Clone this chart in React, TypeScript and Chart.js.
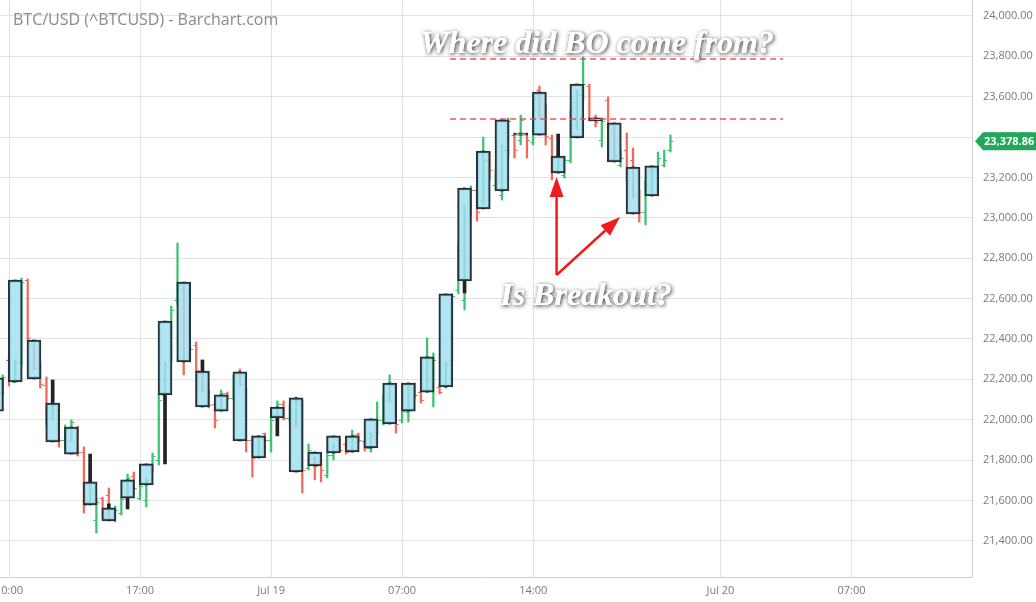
import React, { useEffect, useRef } from "react";
import { Chart, registerables } from "chart.js";
Chart.register(...registerables);

// ---- axes ----
const xMinHour = 9.519; // hours since Jul 18 00:00
const xMaxHour = 61.44;
const xTickHours = [10, 17, 24, 31, 38, 48, 55];
const xTickLabels = ["10:00", "17:00", "Jul 19", "07:00", "14:00", "Jul 20", "07:00"];
const yMin = 21221;
const yMax = 24079;
const yTicks = [21400, 21600, 21800, 22000, 22200, 22400, 22600, 22800, 23000, 23200, 23400, 23600, 23800, 24000];

// ---- hourly candles (boxes) ----
const hourStarts = [9, 10, 11, 12, 13, 14, 15, 16, 17, 18, 19, 20, 21, 22, 23, 24, 25, 26, 27, 28, 29, 30, 31, 32, 33, 34, 35, 36, 37, 38, 39, 40, 41, 42, 43, 44];
const hourOpen = [22207, 22187, 22395, 22083, 21964, 21692, 21563, 21612, 21677, 22123, 22286, 22241, 22043, 22237, 21920, 22009, 22108, 21771, 21835, 21840, 21860, 21979, 22182, 22137, 22162, 22687, 23044, 23133, 23420, 23410, 23306, 23396, 23495, 23470, 23252, 23108];
const hourClose = [22043, 22692, 22202, 21890, 21830, 21578, 21499, 21702, 21781, 22489, 22682, 22063, 22123, 21895, 21811, 22063, 21741, 21840, 21920, 21920, 22004, 22182, 22043, 22311, 22623, 23148, 23331, 23485, 23410, 23623, 23222, 23663, 23480, 23277, 23019, 23257];
const hourHigh = [22207, 22692, 22395, 22197, 21964, 21830, 21583, 21702, 21781, 22489, 22682, 22296, 22123, 22237, 21920, 22063, 22108, 21840, 21920, 21920, 22004, 22182, 22182, 22311, 22623, 23148, 23331, 23485, 23420, 23623, 23415, 23663, 23495, 23470, 23252, 23257];
const hourLow = [22043, 22187, 22202, 21890, 21830, 21578, 21499, 21558, 21677, 21781, 22286, 22063, 22043, 21895, 21811, 21920, 21741, 21771, 21835, 21840, 21860, 21979, 22043, 22137, 22162, 22628, 23044, 23133, 23410, 23410, 23222, 23396, 23480, 23277, 23019, 23108];

// ---- 20-minute OHLC bars ----
const barTimes = [9.667,
  10, 10.333, 10.667, 11, 11.333, 11.667, 12, 12.333, 12.667, 13, 13.333, 13.667,
  14, 14.333, 14.667, 15, 15.333, 15.667, 16, 16.333, 16.667, 17, 17.333, 17.667,
  18, 18.333, 18.667, 19, 19.333, 19.667, 20, 20.333, 20.667, 21, 21.333, 21.667,
  22, 22.333, 22.667, 23, 23.333, 23.667, 24, 24.333, 24.667, 25, 25.333, 25.667,
  26, 26.333, 26.667, 27, 27.333, 27.667, 28, 28.333, 28.667, 29, 29.333, 29.667,
  30, 30.333, 30.667, 31, 31.333, 31.667, 32, 32.333, 32.667, 33, 33.333, 33.667,
  34, 34.333, 34.667, 35, 35.333, 35.667, 36, 36.333, 36.667, 37, 37.333, 37.667,
  38, 38.333, 38.667, 39, 39.333, 39.667, 40, 40.333, 40.667, 41, 41.333, 41.667,
  42, 42.333, 42.667, 43, 43.333, 43.667, 44, 44.333, 44.667, 45, 45.333];
const barOpen = [22133,
  22296, 22187, 22286, 22692, 22370, 22266, 22172, 22009, 22048, 21900, 21900, 21959,
  21840, 21603, 21503, 21612, 21627, 21528, 21538, 21622, 21721, 21612, 21603, 21751,
  21801, 22123, 22296, 22593, 22652, 22296, 22370, 22237, 22123, 22078, 22058, 22133,
  22108, 22237, 22147, 21900, 21820, 21934, 21900, 22019, 22078, 22009, 21974, 22073,
  21761, 21811, 21791, 21726, 21825, 21900, 21880, 21850, 21929, 21895, 21860, 21939,
  21999, 22088, 22167, 21999, 22038, 22157, 22137, 22147, 22197, 22162, 22172, 22296,
  22643, 22593, 23088, 23138, 23088, 23287, 23163, 23113, 23336, 23410, 23386, 23420,
  23376, 23633, 23534, 23396, 23237, 23212, 23287, 23460, 23609, 23653, 23495, 23386,
  23584, 23445, 23262, 23336, 23287, 23113, 23029, 23138, 23237, 23262, 23336];
const barHigh = [22222,
  22321, 22296, 22702, 22697, 22380, 22286, 22212, 22083, 22073, 21974, 21999, 21969,
  21865, 21692, 21612, 21617, 21662, 21573, 21617, 21731, 21741, 21682, 21716, 21835,
  22123, 22286, 22563, 22875, 22667, 22395, 22385, 22246, 22147, 22088, 22147, 22137,
  22222, 22251, 22157, 21920, 21920, 21934, 22014, 22093, 22093, 22073, 22113, 22098,
  21880, 21815, 21801, 21835, 21880, 21910, 21885, 21949, 21934, 21900, 21934, 22088,
  22123, 22222, 22177, 22048, 22172, 22182, 22147, 22405, 22331, 22172, 22286, 22623,
  22866, 23064, 23158, 23163, 23400, 23326, 23237, 23361, 23495, 23420, 23509, 23420,
  23584, 23653, 23559, 23410, 23296, 23306, 23534, 23633, 23797, 23663, 23509, 23490,
  23599, 23460, 23336, 23420, 23346, 23138, 23188, 23257, 23326, 23336, 23410];
const barLow = [22123,
  22167, 22187, 22271, 22395, 22246, 22157, 21974, 21999, 21865, 21860, 21890, 21820,
  21538, 21578, 21439, 21513, 21503, 21494, 21528, 21612, 21652, 21603, 21568, 21741,
  21776, 22108, 22286, 22568, 22222, 22286, 22237, 22137, 22058, 21959, 22048, 22098,
  22098, 22167, 21840, 21716, 21811, 21890, 21840, 22009, 21999, 21989, 21964, 21637,
  21751, 21702, 21692, 21712, 21801, 21840, 21830, 21840, 21890, 21845, 21840, 21929,
  21974, 22083, 21934, 21984, 21989, 22108, 22083, 22137, 22063, 22128, 22157, 22286,
  22623, 22544, 23014, 22984, 23064, 23188, 23138, 23088, 23311, 23296, 23361, 23296,
  23361, 23495, 23361, 23188, 23222, 23197, 23272, 23435, 23584, 23480, 23450, 23351,
  23445, 23287, 23252, 23178, 23098, 22979, 22965, 23113, 23227, 23252, 23326];
const barClose = [22212,
  22197, 22286, 22682, 22405, 22256, 22177, 21999, 22073, 21900, 21949, 21989, 21840,
  21578, 21662, 21593, 21528, 21513, 21553, 21608, 21712, 21662, 21672, 21702, 21820,
  22098, 22271, 22544, 22667, 22321, 22350, 22246, 22157, 22073, 21999, 22133, 22108,
  22197, 22177, 21900, 21811, 21900, 21900, 21999, 22078, 22009, 22048, 22098, 21751,
  21850, 21771, 21751, 21825, 21870, 21850, 21840, 21924, 21900, 21860, 21920, 21999,
  22098, 22172, 21979, 22043, 22147, 22123, 22098, 22296, 22296, 22137, 22271, 22613,
  22841, 23039, 23138, 23029, 23287, 23237, 23212, 23336, 23480, 23336, 23485, 23386,
  23534, 23509, 23405, 23237, 23262, 23287, 23485, 23609, 23663, 23495, 23475, 23480,
  23460, 23311, 23296, 23188, 23113, 23029, 23163, 23227, 23296, 23287, 23378.86];

const lastPrice = 23378.86;
const titleText = "BTC/USD (^BTCUSD) - Barchart.com";

// ---- annotations (data coordinates) ----
const levelValues = [23787, 23490];
const levelFromHour = 33.56;
const levelToHour = 51.35;
const arrowTail = { t: 39.25, v: 22717 };
const arrowTips = [
  { t: 39.25, v: 23202 },
  { t: 42.64, v: 23004 },
];
const noteTexts = ["Where did BO come from?", "Is Breakout?"];
const noteAnchors = [
  { t: 41.41, v: 23816 },
  { t: 40.82, v: 22568 },
];

const GREEN = "#3cc273";
const RED = "#f06a5c";
const GRID = "#e2e2e2";
const BORDER = "#cfcfcf";
const TEXT = "#7a7a7a";

const fmt = (v: number) =>
  v.toLocaleString("en-US", { minimumFractionDigits: 2, maximumFractionDigits: 2 });

export default function App() {
  const ref = useRef<HTMLCanvasElement | null>(null);

  useEffect(() => {
    if (!ref.current) return;
    const third = 1 / 3;
    const thinData = barTimes.map((t, i) => ({ x: t, y: [barLow[i], barHigh[i]] }));
    const thinColors = barTimes.map((_, i) => (barClose[i] >= barOpen[i] ? GREEN : RED));
    const boxData = hourStarts.map((h, i) => ({ x: h + third, y: [hourOpen[i], hourClose[i]] }));
    const upWick = hourStarts.map((h, i) => ({
      x: h + third,
      y: [Math.max(hourOpen[i], hourClose[i]), hourHigh[i]],
    }));
    const lowWick = hourStarts.map((h, i) => ({
      x: h + third,
      y: [hourLow[i], Math.min(hourOpen[i], hourClose[i])],
    }));

    const ohlcTicks = {
      id: "ohlcTicks",
      afterDatasetDraw(chart: any, args: any) {
        if (args.index !== 0) return;
        const { ctx, scales } = chart;
        const xs = scales.x;
        const ys = scales.y;
        ctx.save();
        ctx.lineWidth = 1;
        barTimes.forEach((t, i) => {
          const x = xs.getPixelForValue(t);
          const yo = Math.round(ys.getPixelForValue(barOpen[i])) + 0.5;
          const yc = Math.round(ys.getPixelForValue(barClose[i])) + 0.5;
          ctx.strokeStyle = thinColors[i];
          ctx.beginPath();
          ctx.moveTo(x - 3, yo);
          ctx.lineTo(x, yo);
          ctx.moveTo(x, yc);
          ctx.lineTo(x + 3, yc);
          ctx.stroke();
        });
        ctx.restore();
      },
    };

    const overlay = {
      id: "overlay",
      afterDraw(chart: any) {
        const { ctx, scales, chartArea } = chart;
        const xs = scales.x;
        const ys = scales.y;
        const px = (t: number) => xs.getPixelForValue(t);
        const py = (v: number) => ys.getPixelForValue(v);

        // title
        ctx.save();
        ctx.font = '16px "Open Sans"';
        ctx.fillStyle = "#8a8a8a";
        ctx.textAlign = "left";
        ctx.textBaseline = "alphabetic";
        ctx.fillText(titleText, 13, 25);
        ctx.restore();

        // x labels
        ctx.save();
        ctx.font = '11px "Open Sans"';
        ctx.fillStyle = TEXT;
        ctx.textAlign = "center";
        ctx.textBaseline = "middle";
        xTickHours.forEach((h, i) => ctx.fillText(xTickLabels[i], px(h), chartArea.bottom + 14));
        ctx.restore();

        // dashed levels
        ctx.save();
        ctx.strokeStyle = "rgba(236, 70, 78, 0.9)";
        ctx.lineWidth = 1.5;
        ctx.setLineDash([6, 4]);
        levelValues.forEach((v) => {
          const y = Math.round(py(v));
          ctx.beginPath();
          ctx.moveTo(px(levelFromHour), y);
          ctx.lineTo(px(levelToHour), y);
          ctx.stroke();
        });
        ctx.restore();

        // arrows
        ctx.save();
        ctx.strokeStyle = "#ee1c1c";
        ctx.fillStyle = "#ee1c1c";
        ctx.lineWidth = 2.5;
        const tx = px(arrowTail.t);
        const ty = py(arrowTail.v);
        arrowTips.forEach((tip) => {
          const hx = px(tip.t);
          const hy = py(tip.v);
          const ang = Math.atan2(hy - ty, hx - tx);
          const len = 20;
          const hw = 7;
          const bx = hx - len * Math.cos(ang);
          const by = hy - len * Math.sin(ang);
          ctx.beginPath();
          ctx.moveTo(tx, ty);
          ctx.lineTo(bx, by);
          ctx.stroke();
          ctx.beginPath();
          ctx.moveTo(hx, hy);
          ctx.lineTo(bx + hw * Math.sin(ang), by - hw * Math.cos(ang));
          ctx.lineTo(bx - hw * Math.sin(ang), by + hw * Math.cos(ang));
          ctx.closePath();
          ctx.fill();
        });
        ctx.restore();

        // notes
        noteTexts.forEach((txt, i) => {
          ctx.save();
          ctx.font = 'italic bold 32px "Liberation Serif"';
          ctx.textAlign = "center";
          ctx.textBaseline = "alphabetic";
          ctx.shadowColor = "rgba(0,0,0,0.85)";
          ctx.shadowBlur = 4;
          ctx.shadowOffsetX = 1;
          ctx.shadowOffsetY = 1;
          ctx.fillStyle = "#ffffff";
          ctx.fillText(txt, px(noteAnchors[i].t), py(noteAnchors[i].v));
          ctx.shadowColor = "transparent";
          ctx.fillText(txt, px(noteAnchors[i].t), py(noteAnchors[i].v));
          ctx.restore();
        });

        // last price tag
        ctx.save();
        const y = py(lastPrice);
        const x0 = chartArea.right + 3;
        ctx.fillStyle = "#22a85a";
        ctx.beginPath();
        ctx.moveTo(x0, y);
        ctx.lineTo(x0 + 8, y - 9);
        ctx.lineTo(chart.width, y - 9);
        ctx.lineTo(chart.width, y + 9);
        ctx.lineTo(x0 + 8, y + 9);
        ctx.closePath();
        ctx.fill();
        ctx.font = 'bold 11px "Open Sans"';
        ctx.fillStyle = "#ffffff";
        ctx.textAlign = "left";
        ctx.textBaseline = "middle";
        ctx.fillText(fmt(lastPrice), x0 + 9, y + 0.5);
        ctx.restore();
      },
    };

    const chart = new Chart(ref.current, {
      type: "bar",
      data: {
        datasets: [
          {
            data: thinData as any,
            backgroundColor: thinColors,
            borderWidth: 0,
            barThickness: 1.6,
            order: 3,
          },
          {
            data: boxData as any,
            backgroundColor: "rgba(160, 223, 240, 0.82)",
            borderColor: "#263238",
            borderWidth: 2,
            borderSkipped: false,
            barThickness: 14,
            order: 2,
          },
          {
            data: upWick as any,
            backgroundColor: "#222222",
            borderWidth: 0,
            barThickness: 3,
            order: 1,
          },
          {
            data: lowWick as any,
            backgroundColor: "#222222",
            borderWidth: 0,
            barThickness: 3,
            order: 1,
          },
        ],
      },
      options: {
        animation: false,
        responsive: false,
        maintainAspectRatio: false,
        layout: { padding: 0 },
        datasets: { bar: { grouped: false } } as any,
        plugins: {
          legend: { display: false },
          tooltip: { enabled: false },
        },
        scales: {
          x: {
            type: "linear",
            offset: false,
            min: xMinHour,
            max: xMaxHour,
            grid: { color: GRID, drawTicks: false, lineWidth: 1, offset: false },
            border: { display: true, color: BORDER },
            ticks: { display: false },
            afterBuildTicks: (s: any) => {
              s.ticks = xTickHours.map((v) => ({ value: v }));
            },
            afterFit: (s: any) => {
              s.height = 25;
              s.paddingLeft = 0;
              s.paddingRight = 0;
            },
          },
          y: {
            type: "linear",
            position: "right",
            min: yMin,
            max: yMax,
            grid: { color: GRID, drawTicks: false, lineWidth: 1 },
            border: { display: true, color: BORDER },
            ticks: {
              color: TEXT,
              padding: 11,
              font: { family: "Open Sans", size: 11 },
              callback: (v: any) => fmt(Number(v)),
            },
            afterBuildTicks: (s: any) => {
              s.ticks = yTicks.map((v) => ({ value: v }));
            },
            afterFit: (s: any) => {
              s.width = 64;
              s.paddingTop = 0;
              s.paddingBottom = 0;
            },
          },
        },
      } as any,
      plugins: [ohlcTicks, overlay],
    });
    return () => chart.destroy();
  }, []);

  return (
    <div style={{ position: "absolute", left: 0, top: 0, width: 1036, height: 602, background: "#fff" }}>
      <canvas ref={ref} width={1036} height={602} style={{ display: "block" }} />
    </div>
  );
}
